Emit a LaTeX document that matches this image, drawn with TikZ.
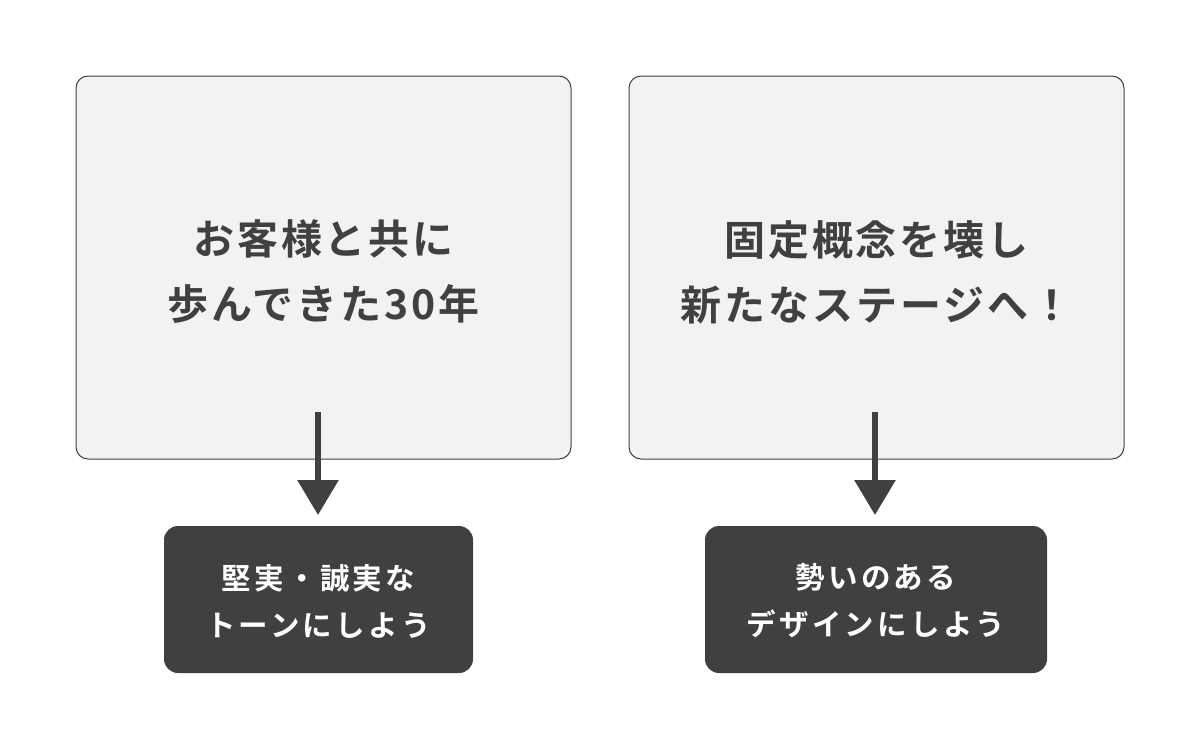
\documentclass[tikz,border=0pt]{standalone}
\usepackage{fontspec}
\newfontfamily\jpbig[LetterSpace=7]{Noto Sans CJK JP Bold}
\newfontfamily\jpsmall[LetterSpace=11]{Noto Sans CJK JP Bold}
\usetikzlibrary{arrows.meta}
\definecolor{dark}{HTML}{404040}
\definecolor{light}{HTML}{F2F2F2}
\tikzset{
  bigbox/.style={draw=dark, line width=1pt, fill=light, rounded corners=12pt},
  darkbox/.style={fill=dark, rounded corners=14pt},
  bigtext/.style={text=dark, align=center, font=\jpbig\fontsize{41}{65}\selectfont},
  smalltext/.style={text=white, align=center, font=\jpsmall\fontsize{29.5}{47}\selectfont},
  flow/.style={draw=dark, line width=6pt, -{Triangle[length=35pt, width=40pt]}}
}
\begin{document}
\begin{tikzpicture}[x=1pt,y=-1pt]
\useasboundingbox (0,0) rectangle (1200,750);
\draw[bigbox] (76,76) rectangle (571,459);
\draw[bigbox] (629,76) rectangle (1124,459);
\node[bigtext] (t1) at (323.5,272) {お客様と共に\\歩んできた30年};
\node[bigtext] (t2) at (876.5,272) {固定概念を壊し\\新たなステージへ！};
\fill[darkbox] (164,526) rectangle (473,673);
\fill[darkbox] (705,526) rectangle (1047,673);
\node[smalltext] (b1) at (318.5,601) {堅実・誠実な\\トーンにしよう};
\node[smalltext] (b2) at (876,601) {勢いのある\\デザインにしよう};
\coordinate (s1) at (318,412);
\coordinate (e1) at (318,515);
\coordinate (s2) at (875,412);
\coordinate (e2) at (875,515);
\draw[flow] (s1) -- (e1);
\draw[flow] (s2) -- (e2);
\end{tikzpicture}
\end{document}
